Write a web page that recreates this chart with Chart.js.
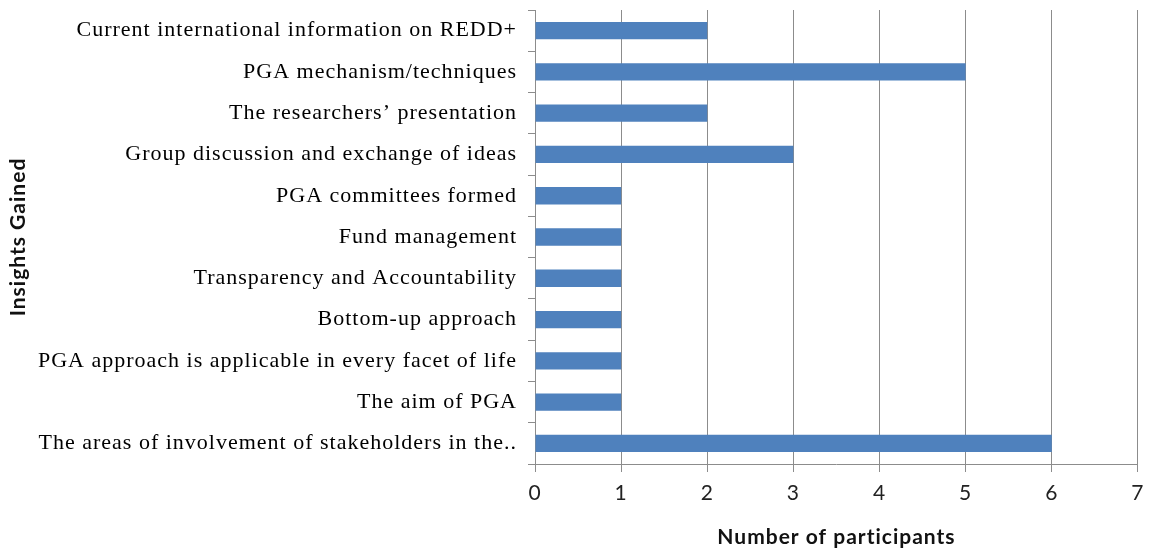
<!DOCTYPE html>
<html lang="en">
<head>
    <meta charset="UTF-8">
    <title>Insights Gained</title>
    <script src="https://cdn.jsdelivr.net/npm/chart.js"></script>
    <style>
        body {
            margin: 0;
            padding: 0;
            background-color: #ffffff;
        }
        #wrap {
            width: 1153px;
            height: 556px;
        }
    </style>
</head>
<body>
    <div id="wrap"><canvas id="insights-chart"></canvas></div>
    <script>
        const categories = [
            'Current international information on REDD+',
            'PGA mechanism/techniques',
            'The researchers\u2019 presentation',
            'Group discussion and exchange of ideas',
            'PGA committees formed',
            'Fund management',
            'Transparency and Accountability',
            'Bottom-up approach',
            'PGA approach is applicable in every facet of life',
            'The aim of PGA',
            'The areas of involvement of stakeholders in the..'
        ];
        const participants = [2, 5, 2, 3, 1, 1, 1, 1, 1, 1, 6];
        const xTicks = [0, 1, 2, 3, 4, 5, 6, 7];

        const gridGray = '#8c8c8c';

        // the source text is a bit stretched, so widen the letters a little
        const spacingPlugin = {
            id: 'spacing',
            beforeDraw(chart) {
                chart.ctx.letterSpacing = '1px';
            }
        };

        new Chart(document.getElementById('insights-chart').getContext('2d'), {
            type: 'bar',
            data: {
                labels: categories,
                datasets: [{
                    label: 'Number of participants',
                    data: participants,
                    backgroundColor: '#4f81bd',
                    borderWidth: 0,
                    barPercentage: 0.42,
                    categoryPercentage: 1.0
                }]
            },
            plugins: [spacingPlugin],
            options: {
                indexAxis: 'y',
                responsive: true,
                maintainAspectRatio: false,
                animation: false,
                layout: {
                    padding: { left: 6, right: 15, top: 10, bottom: 6 }
                },
                plugins: {
                    legend: { display: false },
                    tooltip: { enabled: false }
                },
                scales: {
                    x: {
                        min: xTicks[0],
                        max: xTicks[xTicks.length - 1],
                        afterBuildTicks: (scale) => {
                            scale.ticks = xTicks.map(v => ({ value: v }));
                        },
                        afterFit: (scale) => { scale.height = 86; },
                        grid: {
                            color: gridGray,
                            lineWidth: 1,
                            tickLength: 8,
                            drawTicks: true
                        },
                        border: { color: gridGray },
                        ticks: {
                            color: '#222',
                            padding: 9,
                            font: { family: 'Lato, "Open Sans", sans-serif', size: 21 }
                        },
                        title: {
                            display: true,
                            text: 'Number of participants',
                            color: '#111',
                            padding: { top: 4, bottom: 0 },
                            font: { family: 'Lato, "Open Sans", sans-serif', size: 21, weight: 'bold' }
                        }
                    },
                    y: {
                        afterFit: (scale) => {
                            scale.width = 529;
                            scale.paddingTop = 0;
                            scale.paddingBottom = 0;
                        },
                        grid: {
                            offset: true,
                            drawOnChartArea: false,
                            drawTicks: true,
                            tickLength: 7,
                            color: gridGray
                        },
                        border: { color: gridGray },
                        ticks: {
                            color: '#000',
                            padding: 11,
                            autoSkip: false,
                            font: { family: '"Liberation Serif", "Times New Roman", serif', size: 22 }
                        },
                        title: {
                            display: true,
                            text: 'Insights Gained',
                            color: '#111',
                            padding: { top: 0, bottom: 0 },
                            font: { family: 'Lato, "Open Sans", sans-serif', size: 21, weight: 'bold' }
                        }
                    }
                }
            }
        });
    </script>
</body>
</html>
